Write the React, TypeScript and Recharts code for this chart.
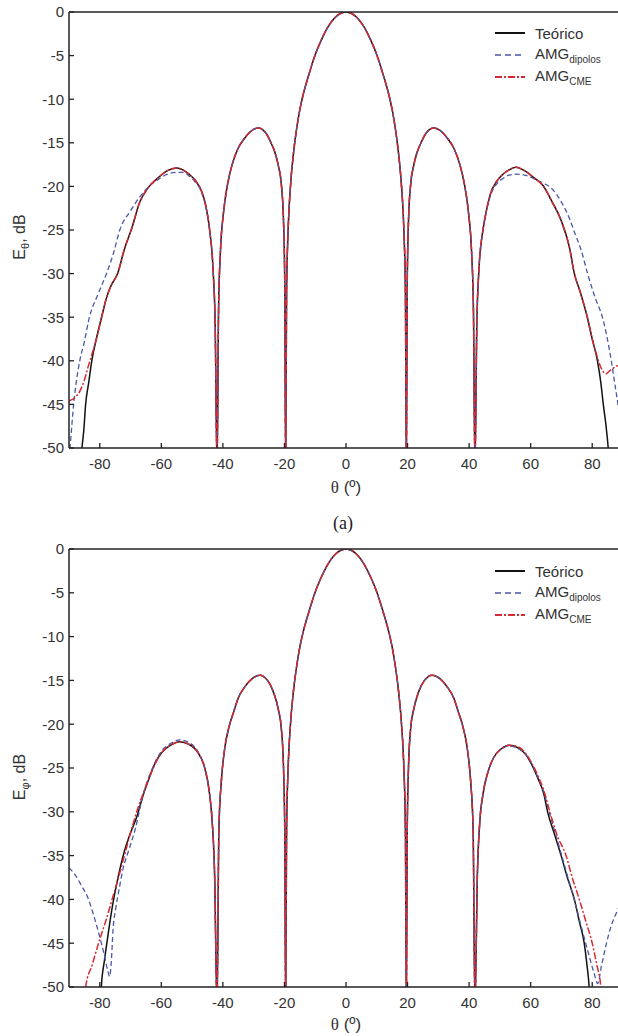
import React from 'react';
import { LineChart, Line, XAxis, YAxis } from 'recharts';

interface Point {
  t: number;
  v: number;
}

const COLORS = {
  teorico: '#111111',   // black solid
  dipolos: '#4a58a6',   // blue dashed
  cme: '#d62a33',       // red dash-dot
  axis: '#222222',
  text: '#333333'
};

const FONT = '"Liberation Sans", Arial, Helvetica, sans-serif';

// axis ticks
const thetaTicks = [-80, -60, -40, -20, 0, 20, 40, 60, 80];
const dbTicks = [0, -5, -10, -15, -20, -25, -30, -35, -40, -45, -50];

// ---------- (a) E_theta ----------
// main lobe + first sidelobes (the three curves overlap here)
const coreThetaA = [-41.9, -41.4, -40.8, -39.8, -38.5, -37, -35, -33, -31, -28.5, -26, -24.5, -23, -22, -21, -20.3, -19.9,
  -19.6,
  -19.3, -18.8, -18, -17, -16, -15, -14, -12, -10, -8, -6, -4, -2, 0, 2, 4, 6, 8, 10, 12, 14, 15, 16, 17, 18, 18.8, 19.3,
  19.6,
  19.9, 20.3, 21, 22, 23, 24.5, 26, 28.5, 31, 33, 35, 37, 38.5, 39.8, 40.8, 41.4, 41.9];
const coreValA = [-52, -34, -27.5, -23, -19.8, -17.5, -15.6, -14.5, -13.7, -13.3, -13.9, -14.9, -16.2, -17.6, -19.8, -24, -31,
  -52,
  -32, -25, -19.8, -16, -13.3, -11.2, -9.6, -7.1, -4.9, -3.2, -1.8, -0.8, -0.2, 0, -0.2, -0.8, -1.8, -3.2, -4.9, -7.1, -9.6, -11.2, -13.3, -16, -19.8, -25, -32,
  -52,
  -31, -24, -19.8, -17.6, -16.2, -14.9, -13.9, -13.3, -13.7, -14.5, -15.6, -17.5, -19.8, -23, -27.5, -34, -52];

// Teórico tails
const teoLeftThetaA = [-86.3, -85.8, -85.2, -84.6, -83.6, -82.6, -81, -79.4, -78, -76.5, -74.2, -72, -69.6, -67, -64.4, -61, -58, -55, -53, -51, -49, -47, -45.5, -44.3, -43.2, -42.5];
const teoLeftValA = [-52, -50, -48, -45, -42.5, -40, -37.3, -35, -33, -31.5, -30, -27.2, -24.8, -21.8, -20.2, -19, -18.2, -17.9, -18.1, -18.6, -19.3, -20.5, -22.3, -25, -29.5, -36];
const teoRightThetaA = [42.5, 43.2, 44.5, 45.5, 47, 49, 51, 53, 55.3, 58, 61, 64, 67, 70, 72.6, 74.2, 76, 78.4, 80, 81.7, 82.8, 83.6, 84.5, 85.2, 85.6];
const teoRightValA = [-36, -29.5, -25, -23, -20.8, -19.4, -18.6, -18.1, -17.8, -18.2, -19, -19.9, -21.8, -24, -27, -30, -32, -35, -37.5, -40, -42.5, -45, -47.5, -50, -52];

// AMG dipolos tails
const dipLeftThetaA = [-90, -89.7, -88.5, -86.5, -85, -83.5, -80.5, -77.8, -75.5, -73.5, -70, -67, -64, -61, -58, -55, -53, -51, -49, -47, -45.5, -44.3, -43.2, -42.5];
const dipLeftValA = [-51, -50, -45, -40, -37.8, -35.2, -32.3, -30, -27.6, -25, -22.8, -21.2, -20, -19.2, -18.6, -18.4, -18.4, -18.8, -19.5, -20.6, -22.4, -25, -29.5, -36];
const dipRightThetaA = [42.5, 43.2, 44.5, 45.5, 47, 49, 51, 53, 55.3, 58, 61, 64, 67, 70, 72.5, 74.5, 76.4, 78.5, 81, 83.3, 86.2, 87.5, 89, 90];
const dipRightValA = [-36, -29.5, -25, -23, -21, -19.7, -19.1, -18.7, -18.6, -18.7, -19.1, -19.6, -20.3, -21.8, -23.6, -25.5, -27.3, -30, -32.8, -35, -40, -43, -46.5, -49];

// AMG CME tails
const cmeLeftThetaA = [-90, -88, -86.5, -85, -83.8, -82.5, -81, -79.4, -78, -76.5, -74.2, -72, -69.6, -67, -64.4, -61, -58, -55, -53, -51, -49, -47, -45.5, -44.3, -43.2, -42.5];
const cmeLeftValA = [-44.6, -44.2, -43.5, -42.2, -40.7, -39.2, -37.4, -35, -33, -31.5, -30, -27.2, -24.8, -21.8, -20.2, -19, -18.2, -17.9, -18.1, -18.6, -19.3, -20.5, -22.3, -25, -29.5, -36];
const cmeRightThetaA = [42.5, 43.2, 44.5, 45.5, 47, 49, 51, 53, 55.3, 58, 61, 64, 67, 70, 72.6, 74.2, 76, 78.4, 80, 81.5, 82.3, 83.5, 84.5, 85.5, 86.6, 88, 90];
const cmeRightValA = [-36, -29.5, -25, -23, -20.8, -19.4, -18.6, -18.1, -17.8, -18.2, -19, -19.9, -21.8, -24, -27, -30, -32, -35, -37.5, -39.4, -40.3, -41.2, -41.5, -41.2, -40.9, -40.6, -40.3];

// ---------- (b) E_phi ----------
const coreThetaB = [-41.9, -41.3, -40.5, -39.5, -38, -36.5, -35, -33, -30.5, -28, -25.5, -23.5, -22, -21, -20.3, -19.9,
  -19.6,
  -19.3, -18.8, -18, -17, -16, -15, -14, -12, -10, -8, -6, -4, -2, 0, 2, 4, 6, 8, 10, 12, 14, 15, 16, 17, 18, 18.8, 19.3,
  19.6,
  19.9, 20.3, 21, 22, 23.5, 25.5, 28, 30.5, 33, 35, 36.5, 38, 39.5, 40.5, 41.3, 41.9];
const coreValB = [-52, -32, -26.5, -23, -20.3, -18.6, -17, -15.8, -14.8, -14.4, -15, -16.4, -18.3, -20.5, -25, -32,
  -52,
  -32, -25, -19.8, -16, -13.3, -11.2, -9.6, -7.1, -4.9, -3.2, -1.8, -0.8, -0.2, 0, -0.2, -0.8, -1.8, -3.2, -4.9, -7.1, -9.6, -11.2, -13.3, -16, -19.8, -25, -32,
  -52,
  -32, -25, -20.5, -18.3, -16.4, -15, -14.4, -14.8, -15.8, -17, -18.6, -20.3, -23, -26.5, -32, -52];

const teoLeftThetaB = [-79.8, -79.5, -78.5, -77.5, -76, -74, -72, -70, -68, -66, -64, -62, -60, -57, -54, -51, -48, -45.9, -44.5, -43.5, -42.7];
const teoLeftValB = [-52, -50, -47, -44.5, -41, -37.4, -34.5, -32.4, -30.6, -28.2, -26.2, -24.4, -23.3, -22.4, -22, -22.3, -23.3, -25, -27.5, -31, -37];
const teoRightThetaB = [42.7, 43.5, 44.5, 46, 48, 50.5, 53, 56, 58.5, 60.6, 62.5, 64.3, 65.5, 67.7, 69.9, 72, 74.2, 75.8, 77.4, 78.3, 79, 79.3];
const teoRightValB = [-37, -31, -28, -25.6, -23.8, -22.8, -22.4, -22.7, -23.5, -24.8, -26.3, -28, -30, -32.5, -35, -37.6, -40, -42.5, -45, -47.5, -50, -52];

const dipLeftThetaB = [-90, -88, -86, -84, -82, -80, -78.5, -77.5, -76.8, -76.2, -75.7, -74.8, -73.7, -72.5, -70.5, -68.5, -66, -63, -60, -57, -54, -51, -48, -45.9, -44.5, -43.5, -42.7];
const dipLeftValB = [-36.4, -37.2, -38.4, -39.7, -41.8, -44.3, -46.4, -48, -48.8, -46.8, -43.5, -41, -38.8, -36.6, -34.3, -32, -28.2, -25.1, -23.1, -22.2, -21.8, -22.1, -23.2, -25, -27.5, -31, -37];
const dipRightThetaB = [42.7, 43.5, 44.5, 46, 48, 50.5, 53, 56, 58.5, 60.6, 62.5, 64.3, 66, 68.3, 70.5, 72.5, 74.5, 76.5, 78.5, 80.5, 81.8, 83, 84.5, 86, 88.3, 90];
const dipRightValB = [-37, -31, -28, -25.6, -23.8, -22.8, -22.5, -22.8, -23.5, -24.7, -26.2, -27.8, -30, -32.8, -35.5, -38, -40.5, -43.2, -45.8, -48.3, -49.6, -47.6, -45.2, -43.2, -41.2, -40];

const cmeLeftThetaB = [-85.2, -84.6, -82.5, -80.4, -78, -76, -74, -72, -70, -68, -66, -63, -60, -57, -54, -51, -48, -45.9, -44.5, -43.5, -42.7];
const cmeLeftValB = [-53, -50, -47.5, -45, -42.4, -40, -37.6, -35, -32.4, -30, -28, -25.3, -23.3, -22.4, -22, -22.3, -23.3, -25, -27.5, -31, -37];
const cmeRightThetaB = [42.7, 43.5, 44.5, 46, 48, 50.5, 53, 56, 58.5, 60.6, 62.5, 64.3, 66, 68.5, 71.5, 73.5, 75.8, 78, 80, 81.5, 82.8, 83.2];
const cmeRightValB = [-37, -31, -28, -25.6, -23.8, -22.8, -22.4, -22.6, -23.4, -24.6, -26, -27.6, -29.7, -32.6, -35, -37.5, -40, -42.6, -45, -47.5, -50, -52];

const toPoints = (t: number[], v: number[]): Point[] => t.map((x, i) => ({ t: x, v: v[i] }));

const seriesA = {
  teo: toPoints([...teoLeftThetaA, ...coreThetaA, ...teoRightThetaA], [...teoLeftValA, ...coreValA, ...teoRightValA]),
  dip: toPoints([...dipLeftThetaA, ...coreThetaA, ...dipRightThetaA], [...dipLeftValA, ...coreValA, ...dipRightValA]),
  cme: toPoints([...cmeLeftThetaA, ...coreThetaA, ...cmeRightThetaA], [...cmeLeftValA, ...coreValA, ...cmeRightValA])
};

const seriesB = {
  teo: toPoints([...teoLeftThetaB, ...coreThetaB, ...teoRightThetaB], [...teoLeftValB, ...coreValB, ...teoRightValB]),
  dip: toPoints([...dipLeftThetaB, ...coreThetaB, ...dipRightThetaB], [...dipLeftValB, ...coreValB, ...dipRightValB]),
  cme: toPoints([...cmeLeftThetaB, ...coreThetaB, ...cmeRightThetaB], [...cmeLeftValB, ...coreValB, ...cmeRightValB])
};

const axisLine = { stroke: COLORS.axis, strokeWidth: 1.5 };
const tickLine = { stroke: COLORS.axis, strokeWidth: 1.3 };
const tickText = { fontSize: 15, fill: COLORS.text, fontFamily: FONT };

interface PanelProps {
  top: number;
  xAxisHeight: number;
  series: { teo: Point[]; dip: Point[]; cme: Point[] };
}

function Panel({ top, xAxisHeight, series }: PanelProps) {
  return (
    <div style={{ position: 'absolute', left: 0, top, width: 640, height: 480 }}>
      <LineChart width={640} height={480} margin={{ top: 11, right: 16, bottom: 0, left: 0 }}>
        <XAxis
          type="number"
          dataKey="t"
          domain={[-90, 90]}
          ticks={thetaTicks}
          interval={0}
          allowDataOverflow
          height={xAxisHeight}
          tickSize={-5}
          tickMargin={15}
          axisLine={axisLine}
          tickLine={tickLine}
          tick={tickText}
        />
        <XAxis
          xAxisId="top"
          orientation="top"
          type="number"
          dataKey="t"
          domain={[-90, 90]}
          ticks={thetaTicks}
          interval={0}
          allowDataOverflow
          height={1}
          tickSize={-5}
          axisLine={axisLine}
          tickLine={tickLine}
          tick={false}
        />
        <YAxis
          type="number"
          domain={[-50, 0]}
          ticks={dbTicks}
          interval={0}
          allowDataOverflow
          width={69}
          tickSize={-5}
          tickMargin={10}
          axisLine={axisLine}
          tickLine={tickLine}
          tick={tickText}
        />
        <YAxis
          yAxisId="right"
          orientation="right"
          type="number"
          domain={[-50, 0]}
          ticks={dbTicks}
          interval={0}
          allowDataOverflow
          width={1}
          tickSize={-8}
          axisLine={axisLine}
          tickLine={tickLine}
          tick={false}
        />
        <Line data={series.teo} dataKey="v" type="monotone" stroke={COLORS.teorico} strokeWidth={1.5} dot={false} isAnimationActive={false} />
        <Line data={series.dip} dataKey="v" type="monotone" stroke={COLORS.dipolos} strokeWidth={1.3} strokeDasharray="5 3" dot={false} isAnimationActive={false} />
        <Line data={series.cme} dataKey="v" type="monotone" stroke={COLORS.cme} strokeWidth={1.5} strokeDasharray="7 2 2 2" dot={false} isAnimationActive={false} />
      </LineChart>
    </div>
  );
}

function LegendBox({ top }: { top: number }) {
  const rows = [
    { key: 'teo', color: COLORS.teorico, dash: undefined, width: 2, label: <span>Teórico</span> },
    { key: 'dip', color: COLORS.dipolos, dash: '6 4', width: 1.3, label: <span>AMG<sub style={{ fontSize: 10 }}>dipolos</sub></span> },
    { key: 'cme', color: COLORS.cme, dash: '7 2 2 2', width: 2, label: <span>AMG<sub style={{ fontSize: 10 }}>CME</sub></span> }
  ];
  return (
    <div style={{ position: 'absolute', left: 495, top: top - 11, fontFamily: FONT, fontSize: 15, color: COLORS.text }}>
      {rows.map((r) => (
        <div key={r.key} style={{ display: 'flex', alignItems: 'center', height: 22 }}>
          <svg width={30} height={6} style={{ marginRight: 10 }}>
            <line x1={0} y1={3} x2={30} y2={3} stroke={r.color} strokeWidth={r.width} strokeDasharray={r.dash} />
          </svg>
          {r.label}
        </div>
      ))}
    </div>
  );
}

const centered = (left: number, top: number, extra: React.CSSProperties = {}): React.CSSProperties => ({
  position: 'absolute',
  left,
  top,
  transform: 'translate(-50%, -50%)',
  whiteSpace: 'nowrap',
  fontFamily: FONT,
  color: COLORS.text,
  ...extra
});

function YTitle({ top, sym }: { top: number; sym: string }) {
  return (
    <div style={centered(21, top, { fontSize: 16, transform: 'translate(-50%, -50%) rotate(-90deg)' })}>
      E<sub style={{ fontSize: 11 }}>{sym}</sub>, dB
    </div>
  );
}

function XTitle({ top }: { top: number }) {
  return (
    <div style={centered(346, top, { fontSize: 17 })}>
      <span style={{ fontFamily: '"Liberation Serif", "Times New Roman", serif' }}>θ</span> (º)
    </div>
  );
}

export default function App() {
  return (
    <div style={{ position: 'absolute', left: 0, top: 0, width: 618, height: 1036, overflow: 'hidden', background: '#fff' }}>
      <Panel top={0} xAxisHeight={32} series={seriesA} />
      <Panel top={537} xAxisHeight={30} series={seriesB} />

      <LegendBox top={33} />
      <LegendBox top={571} />

      <YTitle top={237} sym="θ" />
      <YTitle top={777} sym="φ" />

      <XTitle top={488} />
      <XTitle top={1025} />

      <div style={centered(343, 523, { fontSize: 18, fontFamily: '"Liberation Serif", "Times New Roman", serif', color: '#222' })}>
        (a)
      </div>
    </div>
  );
}
